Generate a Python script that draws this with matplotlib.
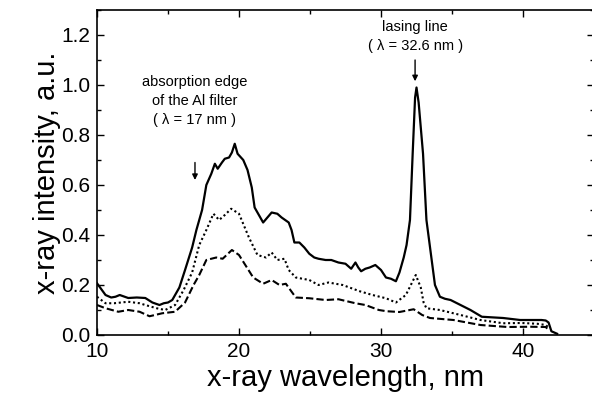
import matplotlib
matplotlib.use('Agg')
import matplotlib.pyplot as plt
from matplotlib.ticker import MultipleLocator

plt.rcParams['font.family'] = ['Liberation Sans', 'DejaVu Sans']

# solid curve (highest intensity)
x_solid = [10.0, 10.6, 11.0, 11.3, 11.6, 12.2, 12.8, 13.4, 13.9, 14.4, 14.7, 15.0, 15.3,
           15.8, 16.2, 16.7, 17.0, 17.4, 17.7, 18.05, 18.3, 18.5, 18.8, 19.0, 19.3, 19.5,
           19.7, 19.9, 20.3, 20.6, 20.9, 21.1, 21.4, 21.7, 22.0, 22.3, 22.7, 23.0, 23.5,
           23.7, 23.9, 24.25, 24.6, 24.95, 25.3, 25.6, 26.1, 26.5, 27.0, 27.5, 27.9, 28.2,
           28.4, 28.6, 28.9, 29.2, 29.6, 29.8, 30.0, 30.35, 30.7, 31.05, 31.3, 31.6, 31.8,
           32.04, 32.23, 32.4, 32.5, 32.65, 32.96, 33.2, 33.5, 33.8, 34.15, 34.5, 34.9,
           35.6, 36.3, 37.1, 38.6, 39.8, 40.7, 41.3, 41.6, 41.8, 42.0, 42.4]
y_solid = [0.207, 0.16, 0.15, 0.153, 0.16, 0.148, 0.15, 0.148, 0.13, 0.12, 0.127, 0.13,
           0.14, 0.19, 0.26, 0.35, 0.42, 0.50, 0.60, 0.645, 0.685, 0.665, 0.69, 0.705,
           0.71, 0.73, 0.765, 0.725, 0.70, 0.66, 0.59, 0.51, 0.48, 0.45, 0.47, 0.49,
           0.485, 0.47, 0.45, 0.42, 0.37, 0.37, 0.35, 0.325, 0.31, 0.305, 0.30, 0.30,
           0.29, 0.285, 0.265, 0.29, 0.27, 0.255, 0.265, 0.27, 0.28, 0.27, 0.26, 0.23,
           0.225, 0.215, 0.25, 0.31, 0.36, 0.46, 0.725, 0.95, 0.99, 0.93, 0.725, 0.46,
           0.33, 0.20, 0.153, 0.145, 0.14, 0.12, 0.10, 0.073, 0.068, 0.06, 0.06, 0.06,
           0.058, 0.05, 0.015, 0.005]

# dotted curve
x_dot = [10.0, 10.6, 11.2, 12.2, 13.0, 13.4, 14.2, 14.8, 15.5, 16.1, 16.7, 17.2, 17.7,
         18.2, 18.6, 19.0, 19.45, 20.0, 20.7, 21.3, 21.9, 22.3, 22.7, 23.2, 23.5, 24.0,
         24.95, 25.6, 26.3, 27.3, 28.5, 29.4, 30.35, 31.05, 31.75, 32.1, 32.45, 32.8,
         33.0, 33.2, 34.15, 35.6, 37.0, 38.6, 39.9, 41.0, 41.6, 41.8]
y_dot = [0.153, 0.127, 0.127, 0.133, 0.127, 0.12, 0.107, 0.10, 0.12, 0.18, 0.25, 0.36,
         0.42, 0.485, 0.46, 0.48, 0.505, 0.485, 0.39, 0.32, 0.31, 0.33, 0.30, 0.305,
         0.26, 0.23, 0.22, 0.20, 0.21, 0.20, 0.175, 0.16, 0.147, 0.13, 0.16, 0.20, 0.24,
         0.19, 0.13, 0.107, 0.10, 0.08, 0.06, 0.047, 0.048, 0.045, 0.04, 0.03]

# dashed curve
x_dash = [10.0, 10.6, 11.5, 12.2, 13.0, 13.7, 14.6, 15.5, 16.2, 16.8, 17.2, 17.7, 18.4,
          18.85, 19.5, 20.0, 21.0, 21.7, 22.3, 22.85, 23.3, 24.0, 24.95, 26.1, 27.0, 28.2,
          28.9, 29.85, 30.4, 31.3, 32.3, 32.9, 33.45, 35.1, 37.0, 38.9, 40.5, 41.6, 41.8]
y_dash = [0.12, 0.107, 0.093, 0.10, 0.093, 0.075, 0.087, 0.093, 0.13, 0.20, 0.24, 0.30,
          0.31, 0.305, 0.34, 0.32, 0.23, 0.205, 0.22, 0.20, 0.205, 0.15, 0.147, 0.14,
          0.143, 0.127, 0.12, 0.10, 0.095, 0.092, 0.103, 0.08, 0.068, 0.06, 0.04, 0.032,
          0.033, 0.032, 0.02]

fig = plt.figure(figsize=(5.92, 3.98), dpi=100)
ax = fig.add_axes([97 / 592, 63 / 398, 497 / 592, 325 / 398])

ax.plot(x_solid, y_solid, color='black', lw=1.6, ls='-')
ax.plot(x_dot, y_dot, color='black', lw=1.5, ls=(0, (1, 1.3)))
ax.plot(x_dash, y_dash, color='black', lw=1.5, ls=(0, (3.5, 1.5)))

ax.set_xlim(10, 45)
ax.set_ylim(0, 1.3)
ax.xaxis.set_major_locator(MultipleLocator(10))
ax.xaxis.set_minor_locator(MultipleLocator(5))
ax.yaxis.set_major_locator(MultipleLocator(0.2))
ax.yaxis.set_minor_locator(MultipleLocator(0.1))
ax.yaxis.set_major_formatter(matplotlib.ticker.FormatStrFormatter('%.1f'))
ax.tick_params(which='both', direction='in', top=True, right=True, width=1.0,
               labelsize=15)
ax.tick_params(which='major', length=5, pad=5)
ax.tick_params(which='minor', length=3)
ax.spines['right'].set_visible(False)
for s in ['left', 'bottom', 'top']:
    ax.spines[s].set_linewidth(1.2)

ax.set_xlabel('x-ray wavelength, nm', fontsize=21, labelpad=2)
ax.set_ylabel('x-ray intensity, a.u.', fontsize=21, labelpad=0)

# annotations
ax.text(16.9, 1.04, 'absorption edge\nof the Al filter\n( \u03bb = 17 nm )',
        ha='center', va='top', fontsize=10.5, linespacing=1.45)
ax.annotate('', xy=(16.9, 0.62), xytext=(16.9, 0.69),
            arrowprops=dict(arrowstyle='-|>', color='black', lw=1, mutation_scale=8,
                            shrinkA=0, shrinkB=0))
ax.text(32.4, 1.26, 'lasing line\n( \u03bb = 32.6 nm )',
        ha='center', va='top', fontsize=10.5, linespacing=1.45)
ax.annotate('', xy=(32.4, 1.015), xytext=(32.4, 1.1),
            arrowprops=dict(arrowstyle='-|>', color='black', lw=1, mutation_scale=8,
                            shrinkA=0, shrinkB=0))

fig.savefig('out.png', dpi=100)
